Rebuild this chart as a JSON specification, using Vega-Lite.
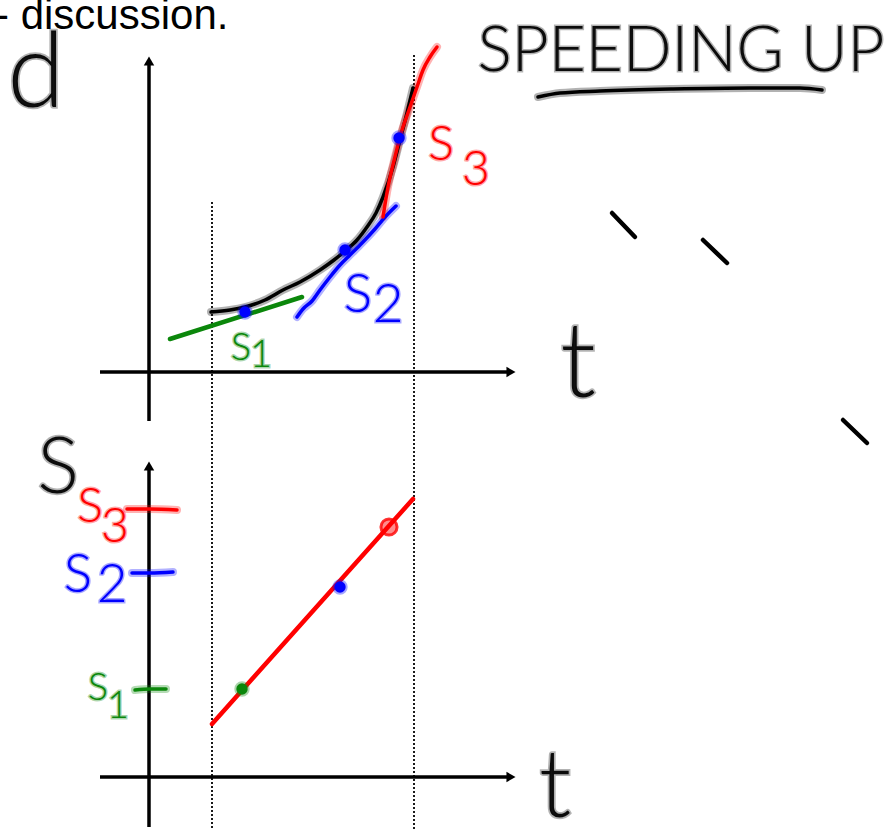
{
  "$schema": "https://vega.github.io/schema/vega-lite/v6.json",
  "width": 890,
  "height": 829,
  "padding": 0,
  "autosize": {"type": "none"},
  "background": "white",
  "config": {"view": {"stroke": null}},
  "datasets": {
    "guides": [
      {"id": "tStart", "x": 212, "y": 202}, {"id": "tStart", "x": 212, "y": 829},
      {"id": "tEnd", "x": 414, "y": 55}, {"id": "tEnd", "x": 414, "y": 829}
    ],
    "axes": [
      {"id": "dAxis", "x": 149, "y": 62}, {"id": "dAxis", "x": 149, "y": 421},
      {"id": "tAxisTop", "x": 100, "y": 372}, {"id": "tAxisTop", "x": 510, "y": 372},
      {"id": "sAxis", "x": 149, "y": 468}, {"id": "sAxis", "x": 149, "y": 827},
      {"id": "tAxisBottom", "x": 100, "y": 777}, {"id": "tAxisBottom", "x": 510, "y": 777}
    ],
    "arrows": [
      {"dir": "up", "x": 149, "y": 61},
      {"dir": "up", "x": 149, "y": 466},
      {"dir": "right", "x": 511, "y": 372},
      {"dir": "right", "x": 511, "y": 777}
    ],
    "ruled": [
      {"id": "tangent1", "pen": "green", "x": 170, "y": 339}, {"id": "tangent1", "pen": "green", "x": 302, "y": 297},
      {"id": "speed", "pen": "red", "x": 212, "y": 724}, {"id": "speed", "pen": "red", "x": 413, "y": 499},
      {"id": "dash1", "pen": "black", "x": 612, "y": 213}, {"id": "dash1", "pen": "black", "x": 635, "y": 237},
      {"id": "dash2", "pen": "black", "x": 703, "y": 240}, {"id": "dash2", "pen": "black", "x": 727, "y": 263},
      {"id": "dash3", "pen": "black", "x": 843, "y": 420}, {"id": "dash3", "pen": "black", "x": 867, "y": 443}
    ],
    "sketch": [
      {"id": "distance", "pen": "black", "x": 211, "y": 312},
      {"id": "distance", "pen": "black", "x": 230, "y": 310},
      {"id": "distance", "pen": "black", "x": 245, "y": 307},
      {"id": "distance", "pen": "black", "x": 265, "y": 300},
      {"id": "distance", "pen": "black", "x": 283, "y": 290},
      {"id": "distance", "pen": "black", "x": 300, "y": 282},
      {"id": "distance", "pen": "black", "x": 320, "y": 270},
      {"id": "distance", "pen": "black", "x": 334, "y": 260},
      {"id": "distance", "pen": "black", "x": 345, "y": 251},
      {"id": "distance", "pen": "black", "x": 357, "y": 240},
      {"id": "distance", "pen": "black", "x": 367, "y": 227},
      {"id": "distance", "pen": "black", "x": 376, "y": 213},
      {"id": "distance", "pen": "black", "x": 383, "y": 197},
      {"id": "distance", "pen": "black", "x": 393, "y": 167},
      {"id": "distance", "pen": "black", "x": 400, "y": 140},
      {"id": "distance", "pen": "black", "x": 407, "y": 113},
      {"id": "distance", "pen": "black", "x": 413, "y": 88},
      {"id": "tangent2", "pen": "blue", "x": 297, "y": 317},
      {"id": "tangent2", "pen": "blue", "x": 303, "y": 309},
      {"id": "tangent2", "pen": "blue", "x": 312, "y": 301},
      {"id": "tangent2", "pen": "blue", "x": 320, "y": 290},
      {"id": "tangent2", "pen": "blue", "x": 330, "y": 277},
      {"id": "tangent2", "pen": "blue", "x": 340, "y": 265},
      {"id": "tangent2", "pen": "blue", "x": 350, "y": 255},
      {"id": "tangent2", "pen": "blue", "x": 362, "y": 243},
      {"id": "tangent2", "pen": "blue", "x": 375, "y": 229},
      {"id": "tangent2", "pen": "blue", "x": 386, "y": 216},
      {"id": "tangent2", "pen": "blue", "x": 396, "y": 206},
      {"id": "tangent3", "pen": "red", "x": 383, "y": 217},
      {"id": "tangent3", "pen": "red", "x": 388, "y": 187},
      {"id": "tangent3", "pen": "red", "x": 395, "y": 157},
      {"id": "tangent3", "pen": "red", "x": 400, "y": 137},
      {"id": "tangent3", "pen": "red", "x": 410, "y": 107},
      {"id": "tangent3", "pen": "red", "x": 417, "y": 87},
      {"id": "tangent3", "pen": "red", "x": 423, "y": 70},
      {"id": "tangent3", "pen": "red", "x": 430, "y": 57},
      {"id": "tangent3", "pen": "red", "x": 437, "y": 47},
      {"id": "tick1", "pen": "green", "x": 135, "y": 690},
      {"id": "tick1", "pen": "green", "x": 150, "y": 689},
      {"id": "tick1", "pen": "green", "x": 166, "y": 689},
      {"id": "tick2", "pen": "blue", "x": 132, "y": 573},
      {"id": "tick2", "pen": "blue", "x": 150, "y": 573},
      {"id": "tick2", "pen": "blue", "x": 173, "y": 572},
      {"id": "tick3", "pen": "red", "x": 127, "y": 509},
      {"id": "tick3", "pen": "red", "x": 150, "y": 509},
      {"id": "tick3", "pen": "red", "x": 177, "y": 510},
      {"id": "underline", "pen": "black", "x": 538, "y": 97},
      {"id": "underline", "pen": "black", "x": 560, "y": 93},
      {"id": "underline", "pen": "black", "x": 600, "y": 91},
      {"id": "underline", "pen": "black", "x": 673, "y": 89},
      {"id": "underline", "pen": "black", "x": 750, "y": 88},
      {"id": "underline", "pen": "black", "x": 800, "y": 88},
      {"id": "underline", "pen": "black", "x": 822, "y": 90}
    ],
    "dots": [
      {"pen": "blue", "x": 245, "y": 312},
      {"pen": "blue", "x": 345, "y": 250},
      {"pen": "blue", "x": 399, "y": 138},
      {"pen": "green", "x": 242, "y": 689},
      {"pen": "blue", "x": 340, "y": 587}
    ],
    "loops": [
      {"pen": "red", "x": 389, "y": 527}
    ],
    "caption": [{"label": "- discussion.", "x": -5, "y": 29}],
    "heading": [{"label": "SPEEDING UP", "x": 681, "y": 71}],
    "axisLetters": [
      {"label": "d", "x": 36, "y": 107},
      {"label": "t", "x": 578, "y": 397}
    ],
    "axisLetterBottom": [
      {"label": "t", "x": 555, "y": 817}
    ],
    "slopeAxisLetter": [{"label": "S", "x": 58, "y": 493}],
    "slopeLabels": [
      {"panel": "top", "part": "letter", "series": "s1", "pen": "green", "label": "S", "x": 241, "y": 360},
      {"panel": "top", "part": "digit", "series": "s1", "pen": "green", "label": "1", "x": 261, "y": 367},
      {"panel": "top", "part": "letter", "series": "s2", "pen": "blue", "label": "S", "x": 358, "y": 312},
      {"panel": "top", "part": "digit", "series": "s2", "pen": "blue", "label": "2", "x": 388, "y": 322},
      {"panel": "top", "part": "letter", "series": "s3", "pen": "red", "label": "S", "x": 441, "y": 160},
      {"panel": "top", "part": "digit", "series": "s3", "pen": "red", "label": "3", "x": 476, "y": 185},
      {"panel": "bottom", "part": "letter", "series": "s3", "pen": "red", "label": "S", "x": 90, "y": 522},
      {"panel": "bottom", "part": "digit", "series": "s3", "pen": "red", "label": "3", "x": 115, "y": 542},
      {"panel": "bottom", "part": "letter", "series": "s2", "pen": "blue", "label": "S", "x": 78, "y": 592},
      {"panel": "bottom", "part": "digit", "series": "s2", "pen": "blue", "label": "2", "x": 112, "y": 602},
      {"panel": "bottom", "part": "letter", "series": "s1", "pen": "green", "label": "S", "x": 98, "y": 700},
      {"panel": "bottom", "part": "digit", "series": "s1", "pen": "green", "label": "1", "x": 118, "y": 718}
    ]
  },
  "encoding": {
    "x": {"field": "x", "type": "quantitative", "scale": {"domain": [0, 890], "nice": false, "zero": false}, "axis": null},
    "y": {"field": "y", "type": "quantitative", "scale": {"domain": [0, 829], "nice": false, "zero": false, "reverse": true}, "axis": null}
  },
  "layer": [
    {
      "data": {"name": "guides"},
      "mark": {"type": "line", "strokeDash": [2, 2], "strokeWidth": 2, "color": "#1a1a1a"},
      "encoding": {"detail": {"field": "id"}}
    },
    {
      "data": {"name": "axes"},
      "mark": {"type": "line", "strokeWidth": 3.5, "color": "#000000"},
      "encoding": {"detail": {"field": "id"}}
    },
    {
      "data": {"name": "arrows"},
      "mark": {"type": "point", "filled": true, "size": 110, "opacity": 1, "color": "#000000"},
      "encoding": {
        "shape": {"field": "dir", "scale": {"domain": ["up", "right"], "range": ["triangle-up", "triangle-right"]}, "legend": null}
      }
    },
    {
      "data": {"name": "ruled"},
      "mark": {"type": "line", "strokeWidth": 4.5, "strokeCap": "round"},
      "encoding": {
        "detail": {"field": "id"},
        "color": {"field": "pen", "scale": {"domain": ["black", "green", "blue", "red"], "range": ["#000000", "#0b870b", "#0000ff", "#ff0000"]}, "legend": null}
      }
    },
    {
      "data": {"name": "sketch"},
      "mark": {"type": "line", "strokeWidth": 8, "strokeCap": "round", "strokeJoin": "round", "opacity": 0.3, "interpolate": "monotone"},
      "encoding": {
        "detail": {"field": "id"},
        "color": {"field": "pen", "scale": {"domain": ["black", "green", "blue", "red"], "range": ["#000000", "#0b870b", "#0000ff", "#ff0000"]}, "legend": null}
      }
    },
    {
      "data": {"name": "sketch"},
      "mark": {"type": "line", "strokeWidth": 3.5, "strokeCap": "round", "strokeJoin": "round", "interpolate": "monotone"},
      "encoding": {
        "detail": {"field": "id"},
        "color": {"field": "pen", "scale": {"domain": ["black", "green", "blue", "red"], "range": ["#000000", "#0b870b", "#0000ff", "#ff0000"]}, "legend": null}
      }
    },
    {
      "data": {"name": "dots"},
      "mark": {"type": "point", "shape": "circle", "filled": true, "size": 130, "opacity": 1, "strokeWidth": 4, "strokeOpacity": 0.35},
      "encoding": {
        "color": {"field": "pen", "scale": {"domain": ["black", "green", "blue", "red"], "range": ["#000000", "#0b870b", "#0000ff", "#ff0000"]}, "legend": null},
        "stroke": {"field": "pen", "scale": {"domain": ["black", "green", "blue", "red"], "range": ["#000000", "#0b870b", "#0000ff", "#ff0000"]}, "legend": null}
      }
    },
    {
      "data": {"name": "loops"},
      "mark": {"type": "point", "shape": "circle", "filled": true, "size": 260, "fillOpacity": 0.45, "strokeWidth": 3, "strokeOpacity": 0.8},
      "encoding": {
        "color": {"field": "pen", "scale": {"domain": ["black", "green", "blue", "red"], "range": ["#000000", "#0b870b", "#0000ff", "#ff0000"]}, "legend": null},
        "stroke": {"field": "pen", "scale": {"domain": ["black", "green", "blue", "red"], "range": ["#000000", "#0b870b", "#0000ff", "#ff0000"]}, "legend": null}
      }
    },
    {
      "data": {"name": "caption"},
      "mark": {"type": "text", "font": "Liberation Sans", "fontSize": 42, "align": "left", "baseline": "alphabetic", "color": "#000000"},
      "encoding": {"text": {"field": "label"}}
    },
    {
      "data": {"name": "heading"},
      "mark": {"type": "text", "font": "Lato", "fontWeight": 300, "fontSize": 64, "align": "center", "baseline": "alphabetic", "color": "#111111", "stroke": "#000000", "strokeWidth": 3, "strokeOpacity": 0.3},
      "encoding": {"text": {"field": "label"}}
    },
    {
      "data": {"name": "axisLetters"},
      "mark": {"type": "text", "font": "Lato", "fontWeight": 300, "fontSize": 104, "align": "center", "baseline": "alphabetic", "color": "#111111", "stroke": "#000000", "strokeWidth": 3.5, "strokeOpacity": 0.3},
      "encoding": {"text": {"field": "label"}}
    },
    {
      "data": {"name": "axisLetterBottom"},
      "mark": {"type": "text", "font": "Lato", "fontWeight": 300, "fontSize": 94, "align": "center", "baseline": "alphabetic", "color": "#111111", "stroke": "#000000", "strokeWidth": 3.5, "strokeOpacity": 0.3},
      "encoding": {"text": {"field": "label"}}
    },
    {
      "data": {"name": "slopeAxisLetter"},
      "mark": {"type": "text", "font": "Lato", "fontWeight": 300, "fontSize": 78, "align": "center", "baseline": "alphabetic", "color": "#111111", "stroke": "#000000", "strokeWidth": 3.5, "strokeOpacity": 0.3},
      "encoding": {"text": {"field": "label"}}
    },
    {
      "data": {"name": "slopeLabels"},
      "transform": [{"filter": "datum.panel === 'top' && datum.part === 'letter'"}],
      "mark": {"type": "text", "font": "Lato", "fontWeight": 300, "align": "center", "baseline": "alphabetic", "strokeWidth": 3, "strokeOpacity": 0.35},
      "encoding": {
        "text": {"field": "label"},
        "size": {"field": "series", "type": "nominal", "scale": {"type": "ordinal", "domain": ["s1", "s2", "s3"], "range": [38, 53, 48]}, "legend": null},
        "color": {"field": "pen", "scale": {"domain": ["black", "green", "blue", "red"], "range": ["#000000", "#0b870b", "#0000ff", "#ff0000"]}, "legend": null},
        "stroke": {"field": "pen", "scale": {"domain": ["black", "green", "blue", "red"], "range": ["#000000", "#0b870b", "#0000ff", "#ff0000"]}, "legend": null}
      }
    },
    {
      "data": {"name": "slopeLabels"},
      "transform": [{"filter": "datum.panel === 'top' && datum.part === 'digit'"}],
      "mark": {"type": "text", "font": "Lato", "fontWeight": 300, "align": "center", "baseline": "alphabetic", "strokeWidth": 3, "strokeOpacity": 0.35},
      "encoding": {
        "text": {"field": "label"},
        "size": {"field": "series", "type": "nominal", "scale": {"type": "ordinal", "domain": ["s1", "s2", "s3"], "range": [34, 40, 56]}, "legend": null},
        "color": {"field": "pen", "scale": {"domain": ["black", "green", "blue", "red"], "range": ["#000000", "#0b870b", "#0000ff", "#ff0000"]}, "legend": null},
        "stroke": {"field": "pen", "scale": {"domain": ["black", "green", "blue", "red"], "range": ["#000000", "#0b870b", "#0000ff", "#ff0000"]}, "legend": null}
      }
    },
    {
      "data": {"name": "slopeLabels"},
      "transform": [{"filter": "datum.panel === 'bottom' && datum.part === 'letter'"}],
      "mark": {"type": "text", "font": "Lato", "fontWeight": 300, "align": "center", "baseline": "alphabetic", "strokeWidth": 3, "strokeOpacity": 0.35},
      "encoding": {
        "text": {"field": "label"},
        "size": {"field": "series", "type": "nominal", "scale": {"type": "ordinal", "domain": ["s1", "s2", "s3"], "range": [35, 53, 57]}, "legend": null},
        "color": {"field": "pen", "scale": {"domain": ["black", "green", "blue", "red"], "range": ["#000000", "#0b870b", "#0000ff", "#ff0000"]}, "legend": null},
        "stroke": {"field": "pen", "scale": {"domain": ["black", "green", "blue", "red"], "range": ["#000000", "#0b870b", "#0000ff", "#ff0000"]}, "legend": null}
      }
    },
    {
      "data": {"name": "slopeLabels"},
      "transform": [{"filter": "datum.panel === 'bottom' && datum.part === 'digit'"}],
      "mark": {"type": "text", "font": "Lato", "fontWeight": 300, "align": "center", "baseline": "alphabetic", "strokeWidth": 3, "strokeOpacity": 0.35},
      "encoding": {
        "text": {"field": "label"},
        "size": {"field": "series", "type": "nominal", "scale": {"type": "ordinal", "domain": ["s1", "s2", "s3"], "range": [26, 27, 27]}, "legend": null},
        "color": {"field": "pen", "scale": {"domain": ["black", "green", "blue", "red"], "range": ["#000000", "#0b870b", "#0000ff", "#ff0000"]}, "legend": null},
        "stroke": {"field": "pen", "scale": {"domain": ["black", "green", "blue", "red"], "range": ["#000000", "#0b870b", "#0000ff", "#ff0000"]}, "legend": null}
      }
    }
  ]
}
